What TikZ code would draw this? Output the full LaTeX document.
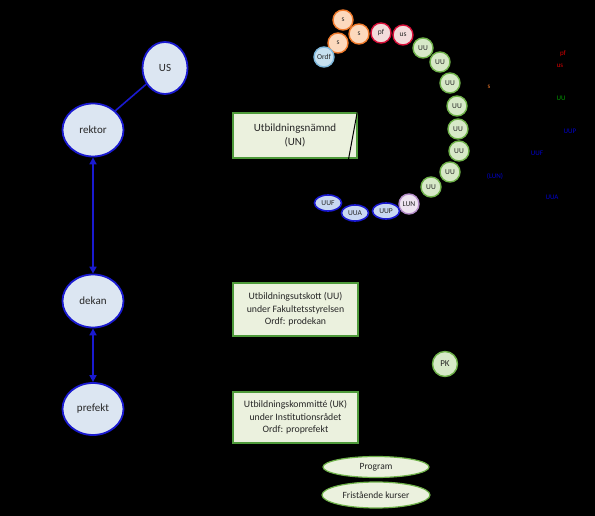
\documentclass[tikz,border=0pt]{standalone}
\usepackage{fontspec}
\setmainfont{Carlito}
\usetikzlibrary{arrows.meta,positioning,shapes.geometric}
\definecolor{orgfill}{HTML}{DCE6F2}
\definecolor{orgline}{HTML}{1A1AD0}
\definecolor{boxfill}{HTML}{EBF1DE}
\definecolor{boxline}{HTML}{4E9A3A}
\definecolor{ufill}{HTML}{D7E9C8}
\definecolor{uline}{HTML}{6FB24A}
\definecolor{sfill}{HTML}{FCD9BD}
\definecolor{sline}{HTML}{F07A2C}
\definecolor{rfill}{HTML}{F2DCDB}
\definecolor{rline}{HTML}{D8103A}
\definecolor{ofill}{HTML}{C6E0F0}
\definecolor{oline}{HTML}{7FB8DC}
\definecolor{lfill}{HTML}{EDE3F0}
\definecolor{lline}{HTML}{B48CC8}
\definecolor{bfill}{HTML}{C9D8F2}
\definecolor{txt}{HTML}{262626}

\begin{document}
\begin{tikzpicture}[x=1pt,y=-1pt,>={Triangle[length=7pt,width=7pt]},
  org/.style={ellipse,draw=orgline,line width=1.8pt,fill=orgfill,text=txt,
    inner sep=0pt,font=\fontsize{11}{13}\selectfont},
  unit/.style={draw=boxline,line width=1.2pt,fill=boxfill,text=txt,align=center,
    inner sep=0pt},
  dot/.style={circle,line width=1.4pt,minimum size=20pt,inner sep=0pt,text=txt,
    font=\fontsize{7.5}{8}\selectfont},
  uu/.style={dot,draw=uline,fill=ufill},
  ss/.style={dot,draw=sline,fill=sfill},
  rr/.style={dot,draw=rline,fill=rfill},
  grp/.style={ellipse,draw=orgline,line width=1.6pt,fill=bfill,text=txt,
    minimum width=27pt,minimum height=16pt,inner sep=0pt,font=\fontsize{7.5}{8}\selectfont},
  kurs/.style={ellipse,draw=uline,line width=1.2pt,fill=boxfill,text=txt,
    inner sep=0pt,font=\fontsize{9.5}{11}\selectfont},
  lab/.style={font=\fontsize{7}{8}\selectfont,inner sep=0pt}]
\fill[black] (0,0) rectangle (595,516);
\useasboundingbox (0,0) rectangle (595,516);

% organisation
\node[org,minimum width=45pt,minimum height=52pt] (us) at (165,68) {US};
\node[org,minimum width=61pt,minimum height=53pt] (rektor) at (93,130) {rektor};
\node[org,minimum width=61pt,minimum height=53pt] (dekan) at (93,301) {dekan};
\node[org,minimum width=61pt,minimum height=52pt] (prefekt) at (93,409) {prefekt};
\draw[orgline,line width=1.6pt] (us)--(rektor);
\draw[<->,orgline,line width=1.6pt] (rektor)--(dekan);
\draw[<->,orgline,line width=1.6pt] (dekan)--(prefekt);

% organ
\node[unit,minimum width=124pt,minimum height=45pt,font=\fontsize{11}{14}\selectfont] (un) at (295,135.5)
  {Utbildningsnämnd\\(UN)};
\node[unit,minimum width=125pt,minimum height=53pt,font=\fontsize{9.8}{12.5}\selectfont] (uu) at (295.5,309.5)
  {Utbildningsutskott (UU)\\under Fakultetsstyrelsen\\Ordf: prodekan};
\node[unit,minimum width=125pt,minimum height=51pt,font=\fontsize{9.8}{12.5}\selectfont] (uk) at (295.5,417.5)
  {Utbildningskommitté (UK)\\under Institutionsrådet\\Ordf: proprefekt};
\coordinate (unA) at (358,108);
\coordinate (unB) at (348,162);
\draw[black,line width=1pt] (unA)--(unB);

% UN-ledamoter
\node[ss] (s1) at (343,20) {s};
\node[ss] (s2) at (359,34) {s};
\node[rr] (pf) at (381,33) {pf};
\node[rr] (usl) at (403,35) {us};
\node[ss] (s3) at (338,43) {s};
\node[dot,draw=oline,fill=ofill] (ordf) at (324,57) {Ordf};
\foreach \x/\y [count=\i] in {423/48,440/62,450/83,457/106,458/129,459/151,450/172,431/187}
  \node[uu] (uu\i) at (\x,\y) {UU};
\node[dot,draw=lline,fill=lfill] (lun) at (409,204) {LUN};
\node[grp] (uup) at (386,211) {UUP};
\node[grp] (uua) at (355,213) {UUA};
\node[grp] (uuf) at (328,203) {UUF};

\node[uu,minimum size=25pt,font=\fontsize{9}{10}\selectfont] (pk) at (445,364) {PK};
\node[kurs,minimum width=106pt,minimum height=21pt] (prog) at (376,467) {Program};
\node[kurs,minimum width=108pt,minimum height=26pt] (fri) at (376,495) {Fristående kurser};

% forklaring
\node[lab,text=red!85!black] (lpf) at (563,54) {pf};
\node[lab,text=red!85!black] (lus) at (560,66) {us};
\node[lab,text=sline] (ls) at (489,87) {s};
\node[lab,text=green!60!black] (luu) at (561,98) {UU};
\node[lab,text=blue!80!black] (luup) at (570,131) {UUP};
\node[lab,text=blue!80!black] (luuf) at (537,153) {UUF};
\node[lab,text=blue!80!black] (llun) at (495,176) {(LUN)};
\node[lab,text=blue!80!black] (luua) at (552,197) {UUA};
\end{tikzpicture}
\end{document}
